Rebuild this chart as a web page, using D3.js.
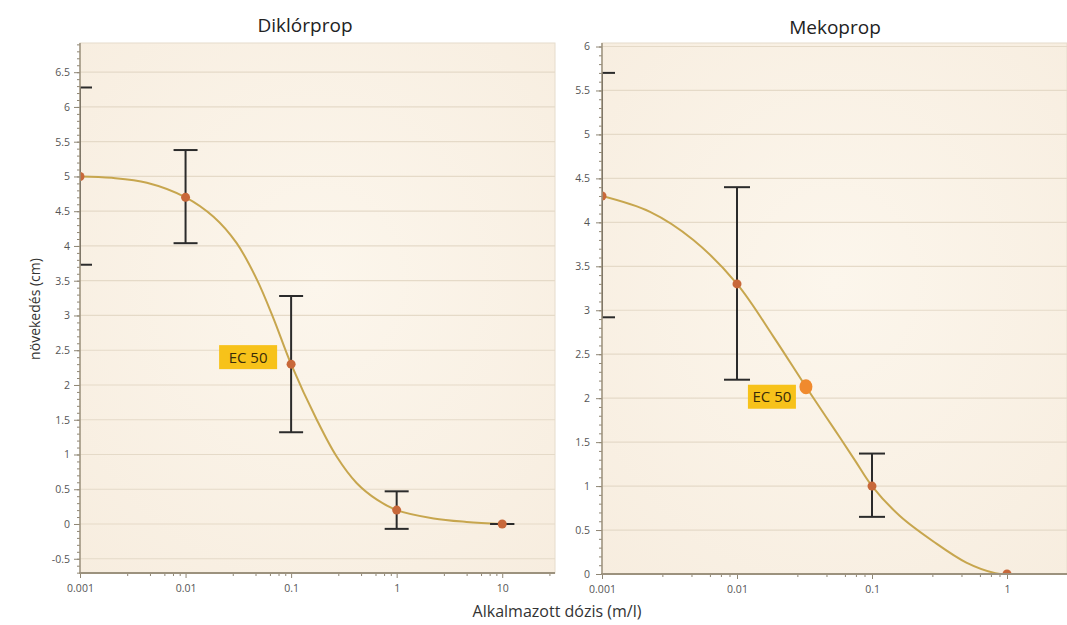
<!DOCTYPE html>
<html>
<head>
<meta charset="utf-8">
<script src="https://cdn.jsdelivr.net/npm/d3@7"></script>
<style>
  body { margin: 0; background: #fff; }
  text { font-family: "Open Sans", sans-serif; }
</style>
</head>
<body>
<div id="chart"></div>
<script>
// Diklórprop: measured means and error bars
var dikDose = [0.001, 0.01, 0.1, 1, 10];
var dikMean = [5.0, 4.7, 2.3, 0.2, 0];
var dikLow  = [3.73, 4.04, 1.32, -0.07, 0];
var dikHigh = [6.28, 5.38, 3.28, 0.47, 0];
// fitted curve
var dikCurveDose = [0.001, 0.002, 0.0043, 0.01, 0.0184, 0.0305, 0.0473, 0.068, 0.1, 0.175, 0.27, 0.417, 0.65, 1, 2.24, 4.6, 10];
var dikCurveVal  = [5.0, 4.98, 4.91, 4.7, 4.42, 4.04, 3.52, 2.96, 2.3, 1.5, 0.97, 0.59, 0.35, 0.2, 0.08, 0.03, 0.0];
var dikEC50 = [0.1, 2.3];
var dikYTicks = [-0.5, 0, 0.5, 1, 1.5, 2, 2.5, 3, 3.5, 4, 4.5, 5, 5.5, 6, 6.5];
var dikXTicks = [0.001, 0.01, 0.1, 1, 10];

// Mekoprop
var mekDose = [0.001, 0.01, 0.1, 1];
var mekMean = [4.3, 3.3, 1.0, 0];
var mekLow  = [2.92, 2.21, 0.65, 0];
var mekHigh = [5.7, 4.4, 1.37, 0];
var mekCurveDose = [0.001, 0.00227, 0.00475, 0.01, 0.0186, 0.0324, 0.046, 0.058, 0.075, 0.1, 0.161, 0.285, 0.5, 0.82, 1];
var mekCurveVal  = [4.3, 4.12, 3.80, 3.30, 2.70, 2.13, 1.78, 1.55, 1.29, 1.0, 0.66, 0.37, 0.13, 0.01, 0];
var mekEC50 = [0.0324, 2.13];
var mekYTicks = [0, 0.5, 1, 1.5, 2, 2.5, 3, 3.5, 4, 4.5, 5, 5.5, 6];
var mekXTicks = [0.001, 0.01, 0.1, 1];

// minor log ticks inside each decade (as they sit in the picture)
var minorMult = [2.8, 4.6, 6.3, 7.6, 8.8];

var width = 1067, height = 625;

var svg = d3.select("#chart").append("svg")
    .attr("width", width)
    .attr("height", height);

var defs = svg.append("defs");
var grad = defs.append("radialGradient").attr("id", "bg")
    .attr("cx", "50%").attr("cy", "45%").attr("r", "75%");
grad.append("stop").attr("offset", "0%").attr("stop-color", "#fcf6ec");
grad.append("stop").attr("offset", "100%").attr("stop-color", "#f7eddf");

function drawPanel(p) {
  var x = d3.scaleLog().domain(p.xDomain).range(p.xRange);
  var y = d3.scaleLinear().domain(p.yDomain).range([p.bottom, p.top]);
  var left = p.xRange[0], right = p.right;

  svg.append("clipPath").attr("id", p.id + "clip")
    .append("rect")
      .attr("x", left).attr("y", p.top)
      .attr("width", right - left).attr("height", p.bottom - p.top);

  svg.append("rect")
      .attr("x", left).attr("y", p.top)
      .attr("width", right - left).attr("height", p.bottom - p.top)
      .attr("fill", "url(#bg)")
      .attr("stroke", "#e6dccc");

  // horizontal grid
  svg.append("g").selectAll("line")
      .data(p.yTicks).enter().append("line")
      .attr("x1", left).attr("x2", right)
      .attr("y1", function(d) { return y(d); })
      .attr("y2", function(d) { return y(d); })
      .attr("stroke", "#e5dac8")
      .attr("stroke-width", 1.2);

  var g = svg.append("g").attr("clip-path", "url(#" + p.id + "clip)");

  var curveData = p.curveDose.map(function(d, i) { return [d, p.curveVal[i]]; });
  var line = d3.line()
      .x(function(d) { return x(d[0]); })
      .y(function(d) { return y(d[1]); })
      .curve(d3.curveCatmullRom.alpha(0.5));

  g.append("path")
      .datum(curveData)
      .attr("d", line)
      .attr("fill", "none")
      .attr("stroke", "#c7a64e")
      .attr("stroke-width", 2);

  var pts = p.dose.map(function(d, i) {
    return {dose: d, mean: p.mean[i], low: p.low[i], high: p.high[i]};
  });

  var eb = g.append("g").selectAll("g").data(pts).enter().append("g")
      .attr("stroke", "#2b2b2b")
      .attr("stroke-width", 2);
  eb.append("line")
      .attr("x1", function(d) { return x(d.dose); })
      .attr("x2", function(d) { return x(d.dose); })
      .attr("y1", function(d) { return y(d.low); })
      .attr("y2", function(d) { return y(d.high); });
  eb.append("line")
      .attr("x1", function(d) { return x(d.dose) - p.cap; })
      .attr("x2", function(d) { return x(d.dose) + p.cap; })
      .attr("y1", function(d) { return y(d.high); })
      .attr("y2", function(d) { return y(d.high); });
  eb.append("line")
      .attr("x1", function(d) { return x(d.dose) - p.cap; })
      .attr("x2", function(d) { return x(d.dose) + p.cap; })
      .attr("y1", function(d) { return y(d.low); })
      .attr("y2", function(d) { return y(d.low); });

  g.append("g").selectAll("circle").data(pts).enter().append("circle")
      .attr("cx", function(d) { return x(d.dose); })
      .attr("cy", function(d) { return y(d.mean); })
      .attr("r", 4.5)
      .attr("fill", "#c8683a");

  if (p.ecDot) {
    g.append("ellipse")
        .attr("cx", x(p.ec50[0]))
        .attr("cy", y(p.ec50[1]))
        .attr("rx", 6.5).attr("ry", 7.5)
        .attr("fill", "#f08a2e");
  }

  // EC 50 label
  var lx = x(p.ec50[0]) + p.labelDx, ly = y(p.ec50[1]) + p.labelDy;
  svg.append("rect")
      .attr("x", lx - p.labelW).attr("y", ly - 12)
      .attr("width", p.labelW).attr("height", 24)
      .attr("fill", "#f7c21a");
  svg.append("text")
      .attr("x", lx - p.labelW / 2).attr("y", ly + 5.5)
      .attr("text-anchor", "middle")
      .attr("font-size", "15px")
      .attr("fill", "#3a2c08")
      .text("EC 50");

  // y axis
  var fmt = function(d) { return String(d); };
  var minorY = d3.range(Math.ceil(p.yDomain[0] * 10), Math.floor(p.yDomain[1] * 10) + 1)
      .map(function(d) { return d / 10; });
  svg.append("g")
      .attr("transform", "translate(" + left + ",0)")
      .call(d3.axisLeft(y).tickValues(minorY).tickSize(3).tickFormat(""))
      .call(function(s) { s.select(".domain").remove(); s.selectAll("line").attr("stroke", "#8f8674"); });
  svg.append("g")
      .attr("transform", "translate(" + left + ",0)")
      .call(d3.axisLeft(y).tickValues(p.yTicks).tickSize(6).tickPadding(p.yPad).tickFormat(fmt))
      .call(function(s) {
        s.select(".domain").remove();
        s.selectAll("line").attr("stroke", "#8f8674");
        s.selectAll("text").attr("fill", "#555").attr("font-size", "10.5px")
          .style("font-family", "'Open Sans', sans-serif");
      });
  svg.append("line")
      .attr("x1", left).attr("x2", left)
      .attr("y1", p.top).attr("y2", p.bottom)
      .attr("stroke", "#9c927e").attr("stroke-width", 1.5);

  // x axis
  var minorX = [];
  p.xTicks.forEach(function(t) {
    minorMult.forEach(function(m) {
      var v = t * m;
      if (x(v) <= right) minorX.push(v);
    });
  });
  svg.append("g")
      .attr("transform", "translate(0," + p.bottom + ")")
      .call(d3.axisBottom(x).tickValues(minorX).tickSize(3).tickFormat(""))
      .call(function(s) { s.select(".domain").remove(); s.selectAll("line").attr("stroke", "#8f8674"); });
  svg.append("g")
      .attr("transform", "translate(0," + p.bottom + ")")
      .call(d3.axisBottom(x).tickValues(p.xTicks).tickSize(5).tickPadding(7).tickFormat(fmt))
      .call(function(s) {
        s.select(".domain").remove();
        s.selectAll("line").attr("stroke", "#8f8674");
        s.selectAll("text").attr("fill", "#555").attr("font-size", "10.5px")
          .style("font-family", "'Open Sans', sans-serif");
      });
  svg.append("line")
      .attr("x1", left - 1).attr("x2", right)
      .attr("y1", p.bottom).attr("y2", p.bottom)
      .attr("stroke", "#9c927e").attr("stroke-width", 2);

  // title
  svg.append("text")
      .attr("x", p.titleX).attr("y", p.titleY)
      .attr("text-anchor", "middle")
      .attr("font-size", "19px")
      .attr("fill", "#222")
      .text(p.title);
}

drawPanel({
  id: "dik", title: "Diklórprop", titleX: 305, titleY: 32,
  dose: dikDose, mean: dikMean, low: dikLow, high: dikHigh,
  curveDose: dikCurveDose, curveVal: dikCurveVal, ec50: dikEC50, ecDot: false,
  xDomain: [0.001, Math.pow(10, 1.5)], xRange: [80, 555], right: 555,
  yDomain: [-0.705, 6.92], top: 43, bottom: 573,
  yTicks: dikYTicks, xTicks: dikXTicks, yPad: 4, cap: 12,
  labelDx: -14, labelDy: -7, labelW: 58
});

drawPanel({
  id: "mek", title: "Mekoprop", titleX: 835, titleY: 34,
  dose: mekDose, mean: mekMean, low: mekLow, high: mekHigh,
  curveDose: mekCurveDose, curveVal: mekCurveVal, ec50: mekEC50, ecDot: true,
  xDomain: [0.001, 1], xRange: [602, 1007], right: 1067,
  yDomain: [0, 6.04], top: 43, bottom: 574,
  yTicks: mekYTicks, xTicks: mekXTicks, yPad: 6, cap: 13,
  labelDx: -10, labelDy: 10, labelW: 48
});

// shared axis titles
svg.append("text")
    .attr("transform", "translate(40,309) rotate(-90)")
    .attr("text-anchor", "middle")
    .attr("font-size", "14px")
    .attr("fill", "#333")
    .text("növekedés (cm)");

svg.append("text")
    .attr("x", 557).attr("y", 617)
    .attr("text-anchor", "middle")
    .attr("font-size", "16px")
    .attr("fill", "#333")
    .text("Alkalmazott dózis (m/l)");
</script>
</body>
</html>
